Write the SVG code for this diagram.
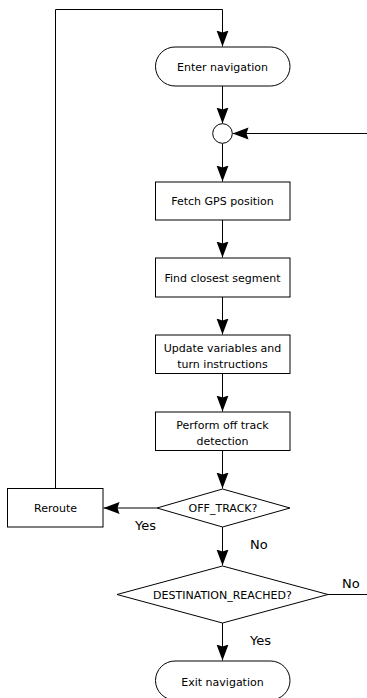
<svg xmlns="http://www.w3.org/2000/svg" width="367" height="698" viewBox="0 0 367 698">
<style>
.s{fill:#fff;stroke:#000;stroke-width:1}
.c{fill:none;stroke:#000;stroke-width:1}
.t{font-family:"DejaVu Sans",Verdana,sans-serif;font-size:11px;fill:#000;text-anchor:middle}
.l{font-family:"DejaVu Sans",Verdana,sans-serif;font-size:13px;fill:#000}
</style>
<defs>
<marker id="a" markerUnits="userSpaceOnUse" markerWidth="17" markerHeight="13" refX="16" refY="6" orient="auto">
<path d="M0,0 L16,6 L0,12 L2,6 z" fill="#000"/>
</marker>
</defs>
<rect width="367" height="698" fill="#fff"/>
<g id="connectors">
<path class="c" d="M55.5,488 V9.5 H222.5 V46.5" marker-end="url(#a)"/>
<path class="c" d="M222.5,86 V123.5" marker-end="url(#a)"/>
<path class="c" d="M367,133.5 H232.5" marker-end="url(#a)"/>
<path class="c" d="M222.5,143.5 V181.5" marker-end="url(#a)"/>
<path class="c" d="M222.5,220 V257.5" marker-end="url(#a)"/>
<path class="c" d="M222.5,297 V334.5" marker-end="url(#a)"/>
<path class="c" d="M222.5,373.5 V411.5" marker-end="url(#a)"/>
<path class="c" d="M222.5,450.5 V488.5" marker-end="url(#a)"/>
<path class="c" d="M157,508 H103.5" marker-end="url(#a)"/>
<path class="c" d="M222.5,527 V565.5" marker-end="url(#a)"/>
<path class="c" d="M328,594.5 H367"/>
<path class="c" d="M222.5,623 V660.5" marker-end="url(#a)"/>
<text class="l" x="135" y="530">Yes</text>
<text class="l" x="250" y="549">No</text>
<text class="l" x="342" y="588">No</text>
<text class="l" x="250" y="645">Yes</text>
</g>
<g id="enter"><rect class="s" x="155.5" y="47" width="134.5" height="39" rx="19.5"/><text class="t" x="222.5" y="70.5">Enter navigation</text></g>
<g id="merge"><circle class="s" cx="222.5" cy="133.5" r="9.8"/></g>
<g id="fetch"><rect class="s" x="155.5" y="182" width="134.5" height="38"/><text class="t" x="222.5" y="205">Fetch GPS position</text></g>
<g id="find"><rect class="s" x="155.5" y="258" width="134.5" height="39"/><text class="t" x="222.5" y="281.5">Find closest segment</text></g>
<g id="update"><rect class="s" x="155.5" y="335" width="134.5" height="38.5"/><text class="t" x="222.5" y="352">Update variables and</text><text class="t" x="222.5" y="367.5">turn instructions</text></g>
<g id="perform"><rect class="s" x="155.5" y="412" width="134.5" height="38.5"/><text class="t" x="222.5" y="429">Perform off track</text><text class="t" x="222.5" y="444.5">detection</text></g>
<g id="offtrack"><polygon class="s" points="222.5,489 290,508 222.5,527 157,508"/><text class="t" x="223" y="512">OFF_TRACK?</text></g>
<g id="reroute"><rect class="s" x="7.5" y="488.5" width="95.5" height="38.5"/><text class="t" x="55.5" y="512">Reroute</text></g>
<g id="destination"><polygon class="s" points="222.5,566 328,594.5 222.5,623 117,594.5"/><text class="t" x="222.5" y="598.5">DESTINATION_REACHED?</text></g>
<g id="exit"><rect class="s" x="155.5" y="661" width="134.5" height="39" rx="19.5"/><text class="t" x="222.5" y="686">Exit navigation</text></g>
</svg>
